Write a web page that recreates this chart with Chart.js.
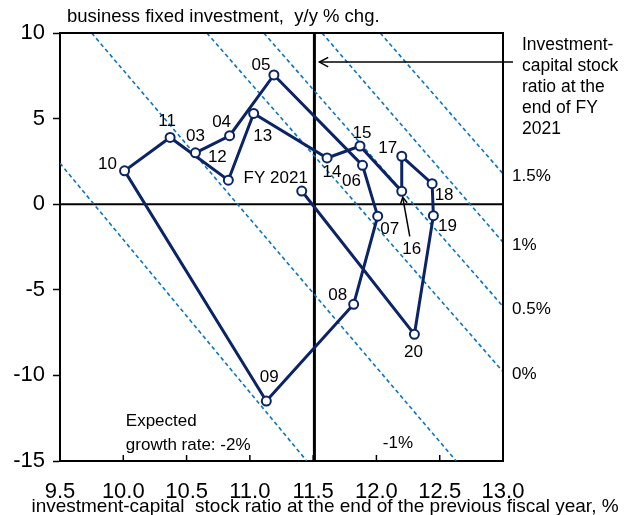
<!DOCTYPE html>
<html>
<head>
  <meta charset="UTF-8">
  <title>Investment-capital stock ratio</title>
  <script src="https://cdn.jsdelivr.net/npm/chart.js"></script>
  <style>
    body { margin: 0; background: #fff; }
    canvas { display: block; }
  </style>
</head>
<body>

  <canvas id="ratioChart" width="628" height="515"></canvas>

  <script>
    // fiscal years along the path (FY2003 -> FY2021)
    const years = ['03', '04', '05', '06', '07', '08', '09', '10', '11', '12',
                   '13', '14', '15', '16', '17', '18', '19', '20', 'FY 2021'];
    // x: investment-capital stock ratio at end of previous FY, %
    const ratio = [10.57, 10.84, 11.19, 11.89, 12.01, 11.82, 11.13, 10.01, 10.37, 10.83,
                   11.03, 11.61, 11.87, 12.20, 12.20, 12.44, 12.45, 12.30, 11.41];
    // y: business fixed investment, y/y % chg.
    const growth = [3.0, 4.0, 7.55, 2.27, -0.7, -5.85, -11.5, 1.95, 3.9, 1.4,
                    5.3, 2.7, 3.4, 0.75, 2.8, 1.2, -0.67, -7.6, 0.77];

    // expected growth rate lines (endpoints in data units)
    const rateNames = ['-2%', '-1%', '0%', '0.5%', '1%', '1.5%'];
    const rateX = [[9.5, 11.45], [9.75, 12.63], [10.66, 13.0], [11.11, 13.0], [11.57, 13.0], [12.03, 13.0]];
    const rateY = [[2.39, -15], [10, -15], [10, -9.78], [10, -5.97], [10, -2.22], [10, 1.78]];

    const ratioEndFY2021 = 11.51;
    const xTicks = [9.5, 10.0, 10.5, 11.0, 11.5, 12.0, 12.5, 13.0];
    const yTicks = [-15, -10, -5, 0, 5, 10];

    // label offsets from each point, px
    const labelOffsets = [[0, -17], [-8, -13], [-13, -10], [-11, 16], [12, 13], [-16, -9], [3, -24],
                          [-17, -7], [-3, -16], [-11, -23], [9, 23], [5, 14], [2, -13], [10, 58],
                          [-14, -8], [12, 12], [14, 11], [-1, 18], [-26, -13]];

    const FONT = 'Arial, "Liberation Sans", sans-serif';
    const NAVY = '#0b2466';
    const BLUE = '#0a74c4';

    const datasets = [{
      label: 'path',
      data: ratio.map((x, i) => ({ x: x, y: growth[i] })),
      showLine: true,
      borderColor: NAVY,
      borderWidth: 3,
      pointRadius: 4.5,
      pointBorderWidth: 2,
      pointBackgroundColor: '#fff',
      pointBorderColor: NAVY,
      order: 0
    }];
    rateNames.forEach((n, i) => {
      datasets.push({
        label: n,
        data: [{ x: rateX[i][0], y: rateY[i][0] }, { x: rateX[i][1], y: rateY[i][1] }],
        showLine: true,
        borderColor: BLUE,
        borderWidth: 1.6,
        borderDash: [4, 3],
        pointRadius: 0,
        order: 1
      });
    });

    function arrow(ctx, x1, y1, x2, y2, size) {
      ctx.beginPath();
      ctx.moveTo(x1, y1);
      ctx.lineTo(x2, y2);
      ctx.stroke();
      const a = Math.atan2(y2 - y1, x2 - x1);
      ctx.beginPath();
      ctx.moveTo(x2 - size * Math.cos(a - 0.5), y2 - size * Math.sin(a - 0.5));
      ctx.lineTo(x2, y2);
      ctx.lineTo(x2 - size * Math.cos(a + 0.5), y2 - size * Math.sin(a + 0.5));
      ctx.stroke();
    }

    const decorations = {
      id: 'decorations',
      beforeDatasetsDraw(chart) {
        const { ctx, chartArea: a, scales: { x, y } } = chart;
        ctx.save();
        ctx.strokeStyle = '#000';
        // zero line
        ctx.lineWidth = 2;
        ctx.beginPath();
        ctx.moveTo(a.left, y.getPixelForValue(0));
        ctx.lineTo(a.right, y.getPixelForValue(0));
        ctx.stroke();
        // FY2021 ratio line
        ctx.lineWidth = 3;
        ctx.beginPath();
        ctx.moveTo(x.getPixelForValue(ratioEndFY2021), a.top);
        ctx.lineTo(x.getPixelForValue(ratioEndFY2021), a.bottom);
        ctx.stroke();
        ctx.restore();
      },
      afterDatasetsDraw(chart) {
        const { ctx, chartArea: a, scales: { x, y } } = chart;
        ctx.save();
        // frame top / right
        ctx.strokeStyle = '#000';
        ctx.lineWidth = 2;
        ctx.beginPath();
        ctx.moveTo(a.left, a.top);
        ctx.lineTo(a.right, a.top);
        ctx.lineTo(a.right, a.bottom);
        ctx.stroke();
        // x ticks, inside
        ctx.lineWidth = 1.5;
        xTicks.slice(1, -1).forEach(v => {
          const px = x.getPixelForValue(v);
          ctx.beginPath();
          ctx.moveTo(px, a.bottom);
          ctx.lineTo(px, a.bottom - 6);
          ctx.stroke();
        });

        ctx.fillStyle = '#000';
        ctx.textBaseline = 'middle';
        ctx.textAlign = 'center';
        ctx.font = '17px ' + FONT;
        // point labels
        years.forEach((t, i) => {
          const px = x.getPixelForValue(ratio[i]);
          const py = y.getPixelForValue(growth[i]);
          ctx.fillText(t, px + labelOffsets[i][0], py + labelOffsets[i][1]);
        });
        // arrow from "16" label to its point
        const i16 = years.indexOf('16');
        const p16x = x.getPixelForValue(ratio[i16]);
        const p16y = y.getPixelForValue(growth[i16]);
        ctx.lineWidth = 1.5;
        arrow(ctx, p16x + 8, p16y + 45, p16x + 1, p16y + 6, 7);

        // rate line labels
        ctx.textAlign = 'left';
        for (let i = 2; i < rateNames.length; i++) {
          ctx.fillText(rateNames[i], a.right + 9, y.getPixelForValue(rateY[i][1]) + 3);
        }
        ctx.textAlign = 'center';
        ctx.fillText('-1%', x.getPixelForValue(12.17), y.getPixelForValue(-13.97));
        ctx.textAlign = 'left';
        ctx.fillText('Expected', x.getPixelForValue(10.02), y.getPixelForValue(-12.66));
        ctx.fillText('growth rate: -2%', x.getPixelForValue(10.02), y.getPixelForValue(-14.1));

        // FY2021 ratio annotation
        const ay = y.getPixelForValue(8.3);
        ctx.lineWidth = 1.5;
        arrow(ctx, a.right + 10, ay, x.getPixelForValue(ratioEndFY2021) + 5, ay, 10);
        ctx.font = '17.5px ' + FONT;
        ['Investment-', 'capital stock', 'ratio at the', 'end of FY', '2021'].forEach((s, k) => {
          ctx.fillText(s, a.right + 19, 45 + k * 21);
        });

        // axis titles
        ctx.font = '18.5px ' + FONT;
        ctx.textAlign = 'left';
        ctx.fillText('business fixed investment,  y/y % chg.', 67, 17);
        ctx.textAlign = 'center';
        ctx.font = '19px ' + FONT;
        ctx.fillText('investment-capital  stock ratio at the end of the previous fiscal year, %', 325, 507);
        ctx.restore();
      }
    };

    new Chart(document.getElementById('ratioChart').getContext('2d'), {
      type: 'scatter',
      data: { datasets: datasets },
      options: {
        responsive: false,
        animation: false,
        layout: { padding: { top: 33, right: 125, left: 0, bottom: 0 } },
        plugins: { legend: { display: false }, tooltip: { enabled: false } },
        scales: {
          x: {
            type: 'linear',
            min: xTicks[0],
            max: xTicks[xTicks.length - 1],
            afterFit: s => { s.height = 54; },
            afterBuildTicks: s => { s.ticks = xTicks.map(v => ({ value: v })); },
            grid: { display: false, drawTicks: false },
            border: { display: true, color: '#000', width: 2 },
            ticks: {
              font: { family: FONT, size: 22 },
              color: '#000',
              padding: 18,
              maxRotation: 0,
              autoSkip: false,
              callback: v => v.toFixed(1)
            }
          },
          y: {
            type: 'linear',
            min: yTicks[0],
            max: yTicks[yTicks.length - 1],
            afterFit: s => { s.width = 60; },
            afterBuildTicks: s => { s.ticks = yTicks.map(v => ({ value: v })); },
            grid: { display: true, drawOnChartArea: false, tickLength: 7, color: '#000', tickWidth: 1.5 },
            border: { display: true, color: '#000', width: 2 },
            ticks: {
              font: { family: FONT, size: 22 },
              color: '#000',
              padding: 8
            }
          }
        }
      },
      plugins: [decorations]
    });
  </script>

</body>
</html>
